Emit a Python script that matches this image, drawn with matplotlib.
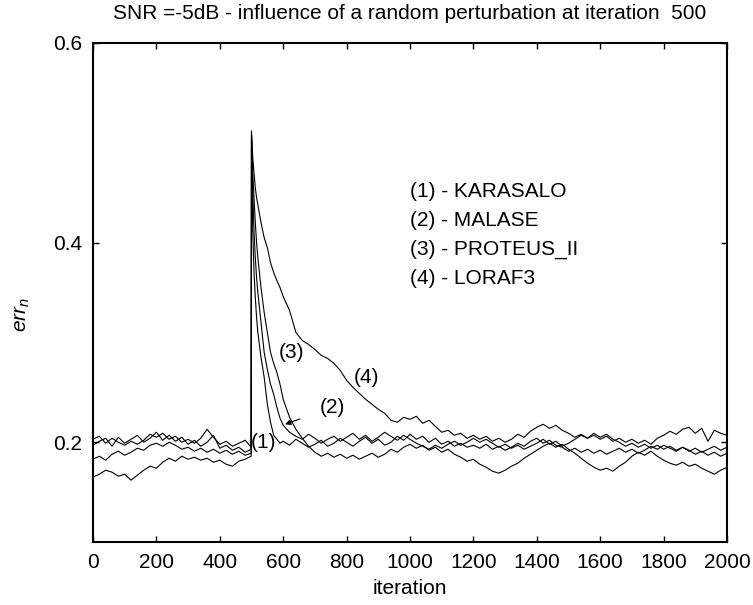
import matplotlib
matplotlib.use("Agg")
import matplotlib.pyplot as plt

plt.rcParams['font.family'] = ['Liberation Sans', 'DejaVu Sans']
plt.rcParams['mathtext.fontset'] = 'custom'
plt.rcParams['mathtext.rm'] = 'Liberation Sans'
plt.rcParams['mathtext.it'] = 'Liberation Sans:italic'

# iteration grid: coarse before the perturbation, dense during the decay
iters = (list(range(0, 500, 20)) + [499]
         + [500, 504, 508, 512, 516, 520, 530, 540, 550, 560, 570, 580, 590]
         + list(range(600, 2001, 20)))

# (1) KARASALO
karasalo = [
    0.197, 0.201, 0.204, 0.196, 0.205, 0.199, 0.203, 0.207, 0.200, 0.204,
    0.210, 0.202, 0.207, 0.201, 0.205, 0.198, 0.202, 0.196, 0.200, 0.207,
    0.194, 0.197, 0.192, 0.195, 0.190, 0.193,
    0.512, 0.410, 0.370, 0.345, 0.325, 0.310, 0.285, 0.265, 0.238, 0.220,
    0.207, 0.203, 0.199,
    0.201, 0.197, 0.203, 0.199, 0.195, 0.198, 0.202, 0.196, 0.199, 0.204,
    0.200, 0.196, 0.201, 0.205, 0.199, 0.203, 0.197, 0.200, 0.206, 0.202,
    0.208, 0.203, 0.206, 0.200, 0.204, 0.198, 0.201, 0.196, 0.199, 0.195,
    0.197, 0.194, 0.198, 0.193, 0.196, 0.192, 0.195, 0.199, 0.196, 0.201,
    0.204, 0.199, 0.202, 0.197, 0.195, 0.191, 0.194, 0.190, 0.193, 0.189,
    0.192, 0.188, 0.191, 0.194, 0.190, 0.193, 0.189, 0.192, 0.196, 0.193,
    0.197, 0.194, 0.191, 0.195, 0.192, 0.188, 0.191, 0.187, 0.190, 0.186,
    0.189,
]

# (2) MALASE
malase = [
    0.183, 0.186, 0.182, 0.188, 0.191, 0.187, 0.190, 0.194, 0.192, 0.197,
    0.199, 0.196, 0.200, 0.197, 0.193, 0.195, 0.191, 0.194, 0.190, 0.193,
    0.189, 0.192, 0.188, 0.191, 0.187, 0.189,
    0.505, 0.450, 0.410, 0.385, 0.365, 0.350, 0.320, 0.290, 0.273, 0.258,
    0.248, 0.235, 0.224,
    0.217, 0.210, 0.206, 0.203, 0.208, 0.204, 0.199, 0.203, 0.206, 0.201,
    0.205, 0.209, 0.203, 0.207, 0.201, 0.205, 0.210, 0.206, 0.202, 0.207,
    0.203, 0.199, 0.196, 0.193, 0.197, 0.194, 0.198, 0.201, 0.197, 0.200,
    0.204, 0.200, 0.203, 0.199, 0.195, 0.198, 0.194, 0.197, 0.193, 0.196,
    0.199, 0.203, 0.198, 0.201, 0.196, 0.199, 0.203, 0.207, 0.204, 0.209,
    0.205, 0.208, 0.203, 0.200, 0.196, 0.199, 0.195, 0.198, 0.194, 0.197,
    0.193, 0.196, 0.192, 0.195, 0.191, 0.194, 0.190, 0.193, 0.196, 0.192,
    0.195,
]

# (3) PROTEUS_II
proteus = [
    0.165, 0.168, 0.172, 0.170, 0.166, 0.168, 0.162, 0.167, 0.172, 0.176,
    0.174, 0.180, 0.184, 0.181, 0.186, 0.183, 0.185, 0.182, 0.184, 0.180,
    0.182, 0.178, 0.176, 0.181, 0.183, 0.186,
    0.508, 0.470, 0.445, 0.420, 0.400, 0.385, 0.355, 0.330, 0.310, 0.290,
    0.279, 0.270, 0.258,
    0.243, 0.225, 0.213, 0.204, 0.196, 0.190, 0.186, 0.189, 0.185, 0.188,
    0.184, 0.187, 0.183, 0.186, 0.189, 0.185, 0.188, 0.193, 0.190, 0.195,
    0.198, 0.194, 0.197, 0.192, 0.195, 0.190, 0.193, 0.188, 0.185, 0.181,
    0.183, 0.178, 0.175, 0.171, 0.169, 0.172, 0.176, 0.179, 0.184, 0.188,
    0.192, 0.196, 0.199, 0.195, 0.198, 0.193, 0.189, 0.184, 0.179, 0.175,
    0.172, 0.174, 0.171, 0.176, 0.180, 0.186, 0.190, 0.187, 0.191, 0.186,
    0.182, 0.179, 0.177, 0.180, 0.176, 0.178, 0.174, 0.171, 0.168, 0.172,
    0.175,
]

# (4) LORAF3
loraf3 = [
    0.203, 0.206, 0.199, 0.204, 0.200, 0.197, 0.201, 0.198, 0.202, 0.208,
    0.205, 0.209, 0.203, 0.206, 0.200, 0.203, 0.199, 0.204, 0.213, 0.205,
    0.198, 0.201, 0.196, 0.199, 0.202, 0.195,
    0.510, 0.485, 0.470, 0.455, 0.445, 0.438, 0.420, 0.405, 0.395, 0.380,
    0.370, 0.362, 0.355,
    0.346, 0.332, 0.310, 0.302, 0.298, 0.293, 0.287, 0.284, 0.279, 0.272,
    0.262, 0.255, 0.249, 0.243, 0.238, 0.233, 0.229, 0.222, 0.220, 0.225,
    0.223, 0.226, 0.219, 0.222, 0.216, 0.210, 0.212, 0.207, 0.209, 0.204,
    0.207, 0.203, 0.206, 0.201, 0.204, 0.200, 0.203, 0.208, 0.205, 0.211,
    0.215, 0.218, 0.214, 0.217, 0.212, 0.209, 0.205, 0.208, 0.204, 0.207,
    0.203, 0.206, 0.201, 0.204, 0.200, 0.203, 0.199, 0.202, 0.198, 0.204,
    0.207, 0.211, 0.208, 0.213, 0.215, 0.209, 0.214, 0.201, 0.212, 0.209,
    0.207,
]

legend_lines = ["(1) - KARASALO", "(2) - MALASE", "(3) - PROTEUS_II", "(4) - LORAF3"]

fig = plt.figure(figsize=(7.53, 6.05), dpi=100)
ax = fig.add_axes([0.1235, 0.104, 0.842, 0.825])

for series in [karasalo, malase, proteus, loraf3]:
    ax.plot(iters, series, color="black", linewidth=0.8)

ax.set_xlim(0, 2000)
ax.set_ylim(0.1, 0.6)
ax.set_xticks(range(0, 2001, 200))
ax.set_yticks([0.2, 0.4, 0.6])
ax.set_yticklabels(["0.2", "0.4", "0.6"])
ax.tick_params(direction="in", top=True, right=True, length=4, width=1, labelsize=15, pad=8)
for sp in ax.spines.values():
    sp.set_linewidth(1.5)

ax.set_title("SNR =-5dB - influence of a random perturbation at iteration  500", fontsize=15, pad=17)
ax.set_xlabel("iteration", fontsize=15, labelpad=5)
ax.set_ylabel(r"$err_n$", fontsize=15)
ax.yaxis.set_label_coords(-0.096, 0.455)

# curve labels
ax.text(537, 0.200, "(1)", fontsize=15, ha="center", va="center")
ax.text(625, 0.290, "(3)", fontsize=15, ha="center", va="center")
ax.text(863, 0.265, "(4)", fontsize=15, ha="center", va="center")
ax.annotate("(2)", xy=(606, 0.218), xytext=(755, 0.235), fontsize=15,
            ha="center", va="center",
            arrowprops=dict(arrowstyle="-|>", color="black", lw=0.8,
                            mutation_scale=8, shrinkA=13, shrinkB=0))

for i, s in enumerate(legend_lines):
    ax.text(1000, 0.451 - i * 0.029, s, fontsize=15, ha="left", va="center")

fig.savefig("out.png", dpi=100)
